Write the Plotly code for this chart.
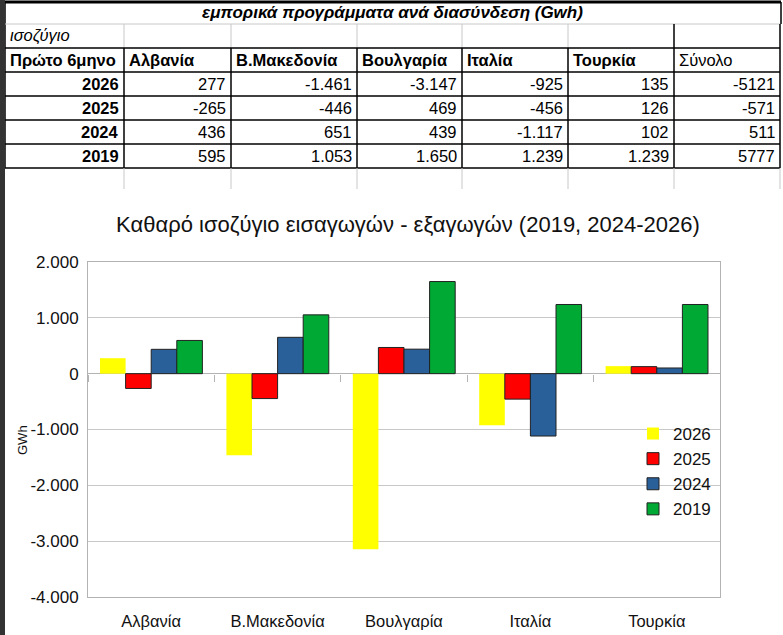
import plotly.graph_objects as go

# δεδομένα πίνακα / γραφήματος
countries = ['Αλβανία', 'Β.Μακεδονία', 'Βουλγαρία', 'Ιταλία', 'Τουρκία']
years = ['2026', '2025', '2024', '2019']
v2026 = [277, -1461, -3147, -925, 135]
v2025 = [-265, -446, 469, -456, 126]
v2024 = [436, 651, 439, -1117, 102]
v2019 = [595, 1053, 1650, 1239, 1239]
totals = [-5121, -571, 511, 5777]
series = [v2026, v2025, v2024, v2019]
bar_colors = ['#ffff00', '#ff0000', '#2a6099', '#00a933']
y_tickvals = [2000, 1000, 0, -1000, -2000, -3000, -4000]
y_ticktext = ['2.000', '1.000', '0', '-1.000', '-2.000', '-3.000', '-4.000']

W, H = 783, 635
FONT = 'Liberation Sans, Arial, sans-serif'

# γεωμετρία πίνακα (px)
col_edges = [5, 124, 231, 357, 462, 568, 674, 780]
row_h = 24
table_top = 24


def px_x(p):
    return p / W


def px_y(p):
    return 1 - p / H


def fmt(v):
    return f"{v:,}".replace(',', '.')


def hline(y, x0, x1, color='black', width=1.5):
    fig.add_shape(type='line', xref='paper', yref='paper',
                  x0=px_x(x0), x1=px_x(x1), y0=px_y(y), y1=px_y(y),
                  line=dict(color=color, width=width))


def vline(x, y0, y1, color='black', width=1.5):
    fig.add_shape(type='line', xref='paper', yref='paper',
                  x0=px_x(x), x1=px_x(x), y0=px_y(y0), y1=px_y(y1),
                  line=dict(color=color, width=width))


def cell_text(text, col, row, align):
    xl, xr = col_edges[col], col_edges[col + 1]
    yc = table_top + row_h * row + row_h / 2
    if align == 'left':
        x, anchor = xl + 3, 'left'
    else:
        x, anchor = xr - 3, 'right'
    fig.add_annotation(text=text, xref='paper', yref='paper',
                       x=px_x(x), y=px_y(yc), xanchor=anchor, yanchor='middle',
                       showarrow=False,
                       font=dict(family=FONT, size=16.5, color='black'))


fig = go.Figure()

# ράβδοι
for name, vals, col in zip(years, series, bar_colors):
    fig.add_trace(go.Bar(
        x=countries, y=vals, name=name,
        marker=dict(color=col,
                    line=dict(color='#222222', width=0 if name == '2026' else 1)),
    ))

# αόρατο ίχνος για τις υποδιαιρέσεις στη γραμμή του μηδενός
fig.add_trace(go.Scatter(x=countries, y=[0] * len(countries), xaxis='x2',
                         mode='markers', marker=dict(opacity=0),
                         showlegend=False, hoverinfo='skip'))

y_min, y_max = -4000, 2000
y_dom = [px_y(597), px_y(262)]
zero_pos = y_dom[0] + (0 - y_min) / (y_max - y_min) * (y_dom[1] - y_dom[0])

fig.update_layout(
    width=W, height=H,
    margin=dict(l=0, r=0, t=0, b=0),
    paper_bgcolor='white', plot_bgcolor='white',
    font=dict(family=FONT, size=16, color='#111111'),
    barmode='group', bargap=0.19, bargroupgap=0,
    title=dict(text='Καθαρό ισοζύγιο εισαγωγών - εξαγωγών (2019, 2024-2026)',
               x=px_x(408), xanchor='center', y=px_y(224), yanchor='middle',
               font=dict(size=22, color='#111111')),
    xaxis=dict(domain=[px_x(88), px_x(720)], showgrid=False, automargin=False,
               showline=True, linecolor='#b3b3b3', mirror=True,
               ticks='', tickfont=dict(size=16.5), ticklabelstandoff=9),
    xaxis2=dict(overlaying='x', matches='x', anchor='free', position=zero_pos,
                showticklabels=False, ticks='outside', tickson='boundaries',
                ticklen=7, tickcolor='#b3b3b3', showgrid=False, showline=False,
                automargin=False),
    yaxis=dict(domain=y_dom, range=[y_min, y_max], automargin=False,
               tickvals=y_tickvals, ticktext=y_ticktext,
               showgrid=True, gridcolor='#c8c8c8', gridwidth=1,
               zeroline=True, zerolinecolor='#b3b3b3', zerolinewidth=1,
               showline=True, linecolor='#b3b3b3', mirror=True,
               ticks='', tickfont=dict(size=17), ticklabelstandoff=5),
    legend=dict(x=px_x(633), y=px_y(416), xanchor='left', yanchor='top',
                bgcolor='rgba(0,0,0,0)', font=dict(size=17),
                tracegroupgap=0),
    showlegend=True,
)

# ---- πίνακας ----
n_cols = len(col_edges) - 1
x_left, x_right = col_edges[0], col_edges[-1]
y_bottom = table_top + row_h * 6

# τίτλος πίνακα
fig.add_annotation(text='<b><i>εμπορικά προγράμματα ανά διασύνδεση (Gwh)</i></b>',
                   xref='paper', yref='paper', x=px_x(392), y=px_y(13),
                   xanchor='center', yanchor='middle', showarrow=False,
                   font=dict(family=FONT, size=17, color='black'))
hline(2, x_left, x_right + 1, width=3)
vline(x_left, 2, y_bottom)
vline(x_right + 1, 2, table_top)

# γραμμή "ισοζύγιο" με γκρι διαχωριστικά
hline(table_top, x_left, x_right, color='#c8c8c8', width=1)
for x in col_edges[1:-2]:
    vline(x, table_top, table_top + row_h, color='#c8c8c8', width=1)
vline(col_edges[-2], table_top, table_top + row_h)
vline(x_right, table_top, y_bottom)

# κύριο πλέγμα
for r in range(1, 7):
    hline(table_top + row_h * r, x_left, x_right)
for x in col_edges[1:-1]:
    vline(x, table_top + row_h, y_bottom)

# κενή γραμμή από κάτω
for x in col_edges[1:]:
    vline(x, y_bottom, y_bottom + 21, color='#c8c8c8', width=1)

# αριστερή λωρίδα του φύλλου
fig.add_shape(type='rect', xref='paper', yref='paper',
              x0=0, x1=px_x(5), y0=0, y1=1,
              line=dict(width=0), fillcolor='#333333')

# κείμενα κελιών
cell_text('<i>ισοζύγιο</i>', 0, 0, 'left')
cell_text('<b>Πρώτο 6μηνο</b>', 0, 1, 'left')
for i, c in enumerate(countries):
    cell_text(f'<b>{c}</b>', i + 1, 1, 'left')
cell_text('Σύνολο', n_cols - 1, 1, 'left')
for r, (y, s) in enumerate(zip(years, series)):
    cell_text(f'<b>{y}</b>', 0, r + 2, 'right')
    for i, v in enumerate(s):
        cell_text(fmt(v), i + 1, r + 2, 'right')
    cell_text(str(totals[r]), n_cols - 1, r + 2, 'right')

# τίτλος άξονα y
fig.add_annotation(text='GWh', xref='paper', yref='paper',
                   x=px_x(22), y=px_y(440), textangle=-90,
                   xanchor='center', yanchor='middle',
                   showarrow=False, font=dict(size=13, color='#111111'))

fig.write_html('out.html', config={'displayModeBar': False},
               post_script="document.body.style.margin='0';"
                           "document.body.style.overflow='hidden';")
